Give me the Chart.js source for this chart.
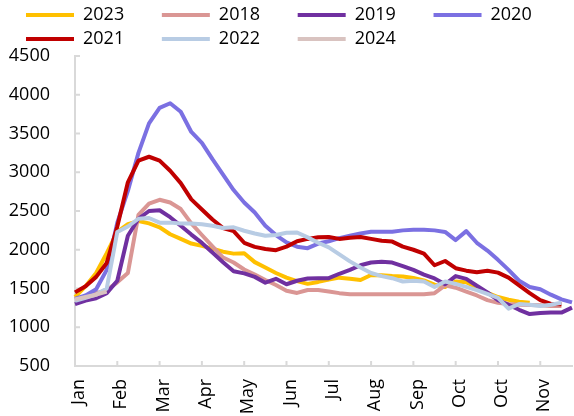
<!DOCTYPE html>
<html>
<head>
<meta charset="utf-8">
<script src="https://cdn.jsdelivr.net/npm/chart.js@4.4.1/dist/chart.umd.min.js"></script>
<style>
  html, body { margin: 0; padding: 0; background: #fff; }
  #wrap { width: 574px; height: 416px; position: relative; }
</style>
</head>
<body>
<div id="wrap"><canvas id="chart"></canvas></div>
<script>
// tick labels shown every 4th week
const monthTicks = ['Jan', 'Feb', 'Mar', 'Apr', 'May', 'Jun', 'Jul', 'Aug', 'Sep', 'Oct', 'Oct', 'Nov'];
const weekCount = 48;

const years = ['2023', '2018', '2019', '2020', '2021', '2022', '2024'];
const colors = ['#FFC000', '#DA9694', '#7030A0', '#7B70E2', '#C00000', '#B8CCE4', '#D9C3C0'];

const y2023 = [1390, 1530, 1700, 1955, 2230, 2330, 2370, 2340, 2290, 2200, 2140, 2080, 2050, 2015, 1975, 1950,
  1955, 1840, 1770, 1700, 1640, 1595, 1560, 1585, 1615, 1640, 1625, 1610, 1675, 1670, 1660, 1655,
  1635, 1605, 1550, 1520, 1590, 1580, 1510, 1445, 1390, 1355, 1330, 1315];
const y2018 = [1360, 1400, 1440, 1480, 1580, 1700, 2450, 2595, 2645, 2610, 2525, 2340, 2190, 2045, 1900, 1835,
  1745, 1680, 1610, 1545, 1470, 1443, 1480, 1480, 1462, 1440, 1426, 1426, 1426, 1426, 1426, 1426,
  1426, 1426, 1440, 1540, 1510, 1460, 1410, 1350, 1315, 1300, 1290, 1288, 1285, 1275, 1275];
const y2019 = [1297, 1345, 1375, 1440, 1600, 2180, 2400, 2500, 2510, 2420, 2310, 2196, 2088, 1964, 1840, 1722,
  1695, 1650, 1575, 1625, 1555, 1600, 1630, 1633, 1633, 1690, 1740, 1800, 1835, 1844, 1835, 1790,
  1740, 1680, 1630, 1555, 1660, 1625, 1535, 1450, 1350, 1290, 1225, 1170, 1185, 1189, 1189, 1253];
const y2020 = [1365, 1410, 1490, 1740, 2350, 2760, 3250, 3630, 3830, 3890, 3780, 3520, 3380, 3170, 2970, 2770,
  2610, 2480, 2310, 2190, 2095, 2040, 2020, 2080, 2110, 2150, 2180, 2210, 2231, 2231, 2231, 2250,
  2257, 2257, 2250, 2230, 2125, 2240, 2090, 1990, 1870, 1740, 1600, 1520, 1490, 1420, 1360, 1320];
const y2021 = [1450, 1530, 1650, 1830, 2300, 2870, 3150, 3200, 3150, 3020, 2860, 2650, 2520, 2390, 2280, 2240,
  2090, 2037, 2010, 1995, 2040, 2110, 2140, 2160, 2165, 2140, 2155, 2165, 2140, 2115, 2105, 2040,
  2000, 1950, 1800, 1855, 1762, 1730, 1710, 1730, 1705, 1640, 1540, 1440, 1350, 1300, 1296];
const y2022 = [1340, 1380, 1420, 1500, 2230, 2300, 2400, 2410, 2350, 2350, 2340, 2340, 2330, 2310, 2280, 2290,
  2245, 2210, 2180, 2190, 2220, 2222, 2160, 2090, 2030, 1940, 1850, 1770, 1700, 1660, 1633, 1590,
  1600, 1590, 1520, 1590, 1560, 1520, 1480, 1430, 1380, 1240, 1300, 1290, 1275, 1290, 1315];
const y2024 = [1360, 1390, 1420, 1460];

const yTickMin = 500;
const yTickMax = 4500;
const yTickStep = 500;

const series = [y2023, y2018, y2019, y2020, y2021, y2022, y2024];

const categories = [];
for (let i = 0; i < weekCount; i++) {
    categories.push(i % 4 === 0 ? monthTicks[i / 4] : '');
}

const FONT = '"Open Sans", sans-serif';
const LEGEND_GAP = '\u2002\u2002\u2002 ';  // widens legend items to the Excel spacing

// push the legend a bit to the right, like the Excel original
const legendShift = {
    id: 'legendShift',
    afterLayout(chart) {
        chart.legend.left += 20;
        chart.legend.right += 20;
    }
};

// small tick marks drawn inside the plot area
const innerTicks = {
    id: 'innerTicks',
    beforeDatasetsDraw(chart) {
        const ctx = chart.ctx;
        const x = chart.scales.x;
        const y = chart.scales.y;
        const area = chart.chartArea;
        ctx.save();
        ctx.strokeStyle = '#d9d9d9';
        ctx.lineWidth = 2;
        ctx.beginPath();
        y.ticks.forEach((t, i) => {
            const py = y.getPixelForTick(i);
            ctx.moveTo(area.left, py);
            ctx.lineTo(area.left + 5, py);
        });
        x.ticks.forEach((t, i) => {
            if (i > 0 && i % 4 === 0) {
                const px = x.getPixelForTick(i);
                ctx.moveTo(px, area.bottom);
                ctx.lineTo(px, area.bottom - 5);
            }
        });
        ctx.stroke();
        ctx.restore();
    }
};

const datasets = years.map((yr, k) => ({
    label: yr,
    data: series[k],
    borderColor: colors[k],
    backgroundColor: colors[k],
    borderWidth: 4,
    pointRadius: 0,
    pointHoverRadius: 0,
    tension: 0,
    borderJoinStyle: 'round',
    order: years.length - k
}));

new Chart(document.getElementById('chart'), {
    type: 'line',
    data: {
        labels: categories,
        datasets: datasets
    },
    options: {
        responsive: true,
        maintainAspectRatio: false,
        animation: false,
        layout: {
            padding: {left: 0, right: 2, top: 0, bottom: 0}
        },
        plugins: {
            legend: {
                position: 'top',
                align: 'start',
                maxHeight: 56,
                labels: {
                    boxWidth: 48,
                    boxHeight: 4,
                    padding: 6,
                    color: '#000',
                    font: {family: FONT, size: 18},
                    sort: (a, b) => a.datasetIndex - b.datasetIndex,
                    generateLabels: function(chart) {
                        const items = Chart.defaults.plugins.legend.labels.generateLabels(chart);
                        items.forEach(it => {
                            it.lineWidth = 0;
                            // last item of each legend row needs no extra room
                            if (it.datasetIndex % 4 !== 3 && it.datasetIndex !== years.length - 1) {
                                it.text = it.text + LEGEND_GAP;
                            }
                        });
                        return items;
                    }
                }
            },
            tooltip: {enabled: false}
        },
        scales: {
            x: {
                type: 'category',
                grid: {display: true, drawOnChartArea: false, drawTicks: false},
                border: {display: true, color: '#d9d9d9', width: 2},
                ticks: {
                    autoSkip: false,
                    maxRotation: 90,
                    minRotation: 90,
                    padding: 13,
                    labelOffset: 4,
                    color: '#000',
                    font: {family: FONT, size: 18},
                    callback: function(value, index) {
                        return index % 4 === 0 ? monthTicks[index / 4] : '';
                    }
                },
                afterFit: function(scale) {
                    scale.height = 50;
                    scale.paddingLeft = 0;
                    scale.paddingRight = 0;
                }
            },
            y: {
                min: yTickMin,
                max: yTickMax,
                grid: {display: true, drawOnChartArea: false, drawTicks: false},
                border: {display: true, color: '#d9d9d9', width: 2},
                ticks: {
                    stepSize: yTickStep,
                    padding: 25,
                    color: '#000',
                    font: {family: FONT, size: 18},
                    callback: function(value) {
                        return String(value);
                    }
                },
                afterFit: function(scale) {
                    scale.width = 75;
                }
            }
        }
    },
    plugins: [legendShift, innerTicks]
});
</script>
</body>
</html>
